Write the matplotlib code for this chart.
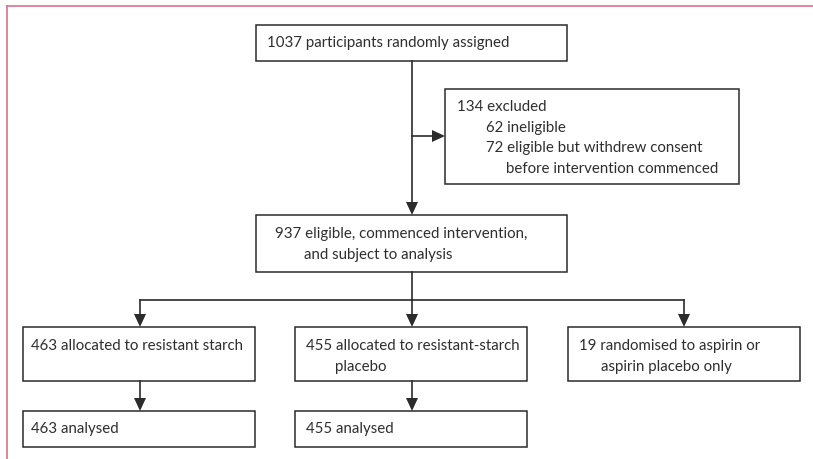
import matplotlib.pyplot as plt
from matplotlib.patches import Rectangle, Polygon

plt.rcParams['font.family'] = ['Lato', 'DejaVu Sans']

# box texts (one string per line)
top_box = ["1037 participants randomly assigned"]
excluded_box = ["134 excluded", "62 ineligible", "72 eligible but withdrew consent",
                "before intervention commenced"]
eligible_box = ["937 eligible, commenced intervention,", "and subject to analysis"]
starch_box = ["463 allocated to resistant starch"]
placebo_box = ["455 allocated to resistant-starch", "placebo"]
aspirin_box = ["19 randomised to aspirin or", "aspirin placebo only"]
starch_done = ["463 analysed"]
placebo_done = ["455 analysed"]

INK = "#2b2b2b"
TXT = "#2e2e2e"
PINK = "#d9728e"

fig = plt.figure(figsize=(8.13, 4.6), dpi=100)
ax = fig.add_axes([0, 0, 1, 1])
ax.set_xlim(0, 813)
ax.set_ylim(460, 0)
ax.axis("off")

# page frame (top and left only)
ax.plot([7, 813], [7, 7], color=PINK, lw=1.2)
ax.plot([7, 7], [7, 460], color=PINK, lw=1.2)


def box(x0, y0, x1, y1, lines, tx, ty, indents):
    ax.add_patch(Rectangle((x0, y0), x1 - x0, y1 - y0, fill=False,
                           edgecolor=INK, lw=1.1, zorder=2))
    for i, s in enumerate(lines):
        ax.text(tx + indents[i], ty + i * 20.7, s, fontsize=10.8, color=TXT,
                ha="left", va="center")


def arrow_down(x, y0, y1):
    ax.plot([x, x], [y0, y1 - 12], color=INK, lw=1.2)
    ax.add_patch(Polygon([[x - 6, y1 - 13], [x + 6, y1 - 13], [x, y1]],
                         closed=True, color=INK, lw=0))


def arrow_right(y, x0, x1):
    ax.plot([x0, x1 - 12], [y, y], color=INK, lw=1.2)
    ax.add_patch(Polygon([[x1 - 13, y - 6], [x1 - 13, y + 6], [x1, y]],
                         closed=True, color=INK, lw=0))


box(256, 26, 567, 62, top_box, 267, 43, [0])
box(445, 90, 739, 185, excluded_box, 457, 107, [0, 29, 29, 49])
box(256, 216, 567, 273, eligible_box, 275, 234, [0, 29])
box(23, 328, 255, 382, starch_box, 31, 346, [0])
box(295, 328, 527, 382, placebo_box, 306, 346, [0, 29])
box(568, 328, 800, 382, aspirin_box, 579, 346, [0, 22])
box(23, 412, 255, 448, starch_done, 31, 429, [0])
box(295, 412, 527, 448, placebo_done, 306, 429, [0])

# connectors
arrow_down(412, 62, 216)
arrow_right(137, 412, 445)
ax.plot([140, 684], [301, 301], color=INK, lw=1.2)
ax.plot([412, 412], [273, 301], color=INK, lw=1.2)
for x in (140, 412, 684):
    arrow_down(x, 301, 328)
arrow_down(140, 382, 412)
arrow_down(412, 382, 412)

fig.savefig("out.png", dpi=100)
